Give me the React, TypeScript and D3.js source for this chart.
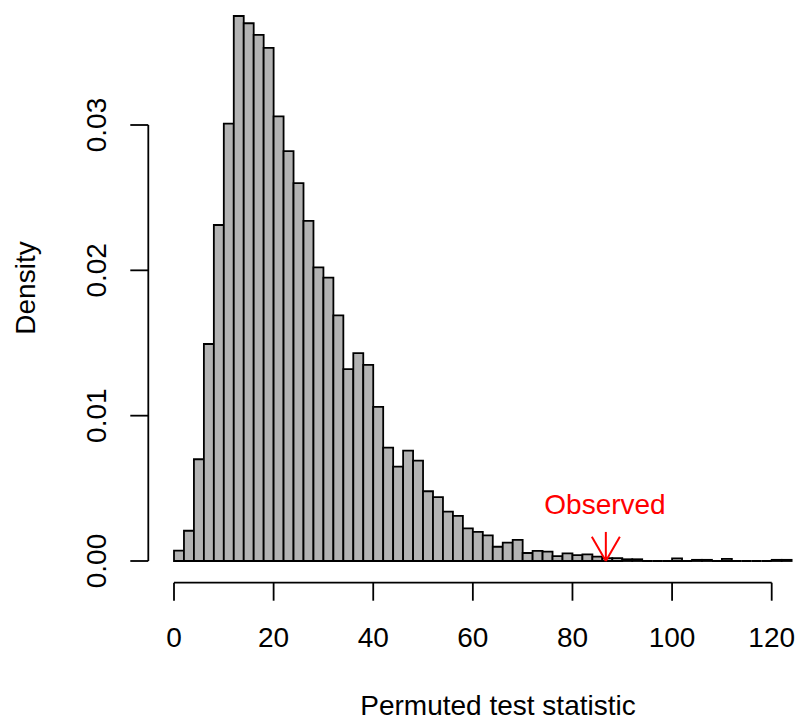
import React from "react";
import * as d3 from "d3";

// Histogram bins: width 2, starting at 0
const binStarts: number[] = Array.from({ length: 62 }, (_, i) => i * 2);
const binWidth = 2;
const densities: number[] = [
  0.00071, 0.00208, 0.0070, 0.01493, 0.02312, 0.0301, 0.0375, 0.0370, 0.0362, 0.0353,
  0.0306, 0.0282, 0.0260, 0.0234, 0.0202, 0.0195, 0.0169, 0.0132, 0.0143, 0.0135,
  0.0106, 0.0078, 0.0065, 0.0076, 0.0069, 0.0048, 0.0044, 0.0034, 0.0031, 0.00225,
  0.0020, 0.00177, 0.00098, 0.00126, 0.00145, 0.00055, 0.0007, 0.00064, 0.00034, 0.00053,
  0.0004, 0.00045, 0.0003, 0.0002, 0.0002, 0.00012, 0.00012, 0, 0, 0,
  0.00018, 0, 0.00008, 0.00008, 0, 0.00015, 0, 0, 0, 0,
  0.00008, 0.00008,
];
const xTicks: number[] = [0, 20, 40, 60, 80, 100, 120];
const yTicks: number[] = [0, 0.01, 0.02, 0.03];
const yTickLabels: string[] = ["0.00", "0.01", "0.02", "0.03"];
const observedValue = 86.7;
const observedLabel = "Observed";
const xTitle = "Permuted test statistic";
const yTitle = "Density";

export default function App() {
  const W = 799;
  const H = 723;
  const x = d3.scaleLinear().domain([0, 120]).range([174, 771.7]);
  const y = d3.scaleLinear().domain([0, 0.03]).range([561, 125]);
  const font = "'Liberation Sans', Arial, Helvetica, sans-serif";
  const fs = 28;
  const axisY = 582.7;
  const axisX = 148.3;
  const tickLen = 18;

  const arrowTop = y(0.002);
  const arrowTip = y(0);
  const ax = x(observedValue);
  const headLen = 28;
  const ang = (30 * Math.PI) / 180;

  const barPath = (s: number, d: number) => {
    const x0 = x(s);
    const x1 = x(s + binWidth);
    const y0 = y(0);
    const y1 = y(d);
    return `M${x0},${y0}L${x0},${y1}L${x1},${y1}L${x1},${y0}Z`;
  };

  return (
    <svg
      width={W}
      height={H}
      style={{ position: "absolute", left: 0, top: 0, background: "#fff" }}
      fontFamily={font}
    >
      <rect x={0} y={0} width={W} height={H} fill="#fff" />
      {/* bars */}
      <g>
        {binStarts.map((s, i) => (
          <path
            key={i}
            d={barPath(s, densities[i])}
            fill="#b3b3b3"
            stroke="#000"
            strokeWidth={1.8}
            strokeLinejoin="miter"
          />
        ))}
      </g>
      {/* x axis */}
      <g>
        <line x1={x(xTicks[0])} x2={x(xTicks[xTicks.length - 1])} y1={axisY} y2={axisY} stroke="#000" strokeWidth={1.8} />
        {xTicks.map((t) => (
          <g key={t}>
            <line x1={x(t)} x2={x(t)} y1={axisY} y2={axisY + tickLen} stroke="#000" strokeWidth={1.8} />
            <text x={x(t)} y={646.5} textAnchor="middle" fontSize={fs} fill="#000">
              {t}
            </text>
          </g>
        ))}
      </g>
      {/* y axis */}
      <g>
        <line x1={axisX} x2={axisX} y1={y(yTicks[0])} y2={y(yTicks[yTicks.length - 1])} stroke="#000" strokeWidth={1.8} />
        {yTicks.map((t, i) => (
          <g key={t}>
            <line x1={axisX - tickLen} x2={axisX} y1={y(t)} y2={y(t)} stroke="#000" strokeWidth={1.8} />
            <text
              transform={`translate(106, ${y(t)}) rotate(-90)`}
              textAnchor="middle"
              fontSize={fs}
              fill="#000"
            >
              {yTickLabels[i]}
            </text>
          </g>
        ))}
      </g>
      {/* titles */}
      <text x={498} y={715} textAnchor="middle" fontSize={fs} fill="#000">
        {xTitle}
      </text>
      <text transform={`translate(35, 288) rotate(-90)`} textAnchor="middle" fontSize={fs} fill="#000">
        {yTitle}
      </text>
      {/* observed arrow */}
      <g stroke="#ff0000" strokeWidth={2} fill="none">
        <line x1={ax} x2={ax} y1={arrowTop} y2={arrowTip} />
        <line x1={ax} y1={arrowTip} x2={ax - headLen * Math.sin(ang)} y2={arrowTip - headLen * Math.cos(ang)} />
        <line x1={ax} y1={arrowTip} x2={ax + headLen * Math.sin(ang)} y2={arrowTip - headLen * Math.cos(ang)} />
      </g>
      <text x={605} y={513.5} textAnchor="middle" fontSize={fs} fill="#ff0000">
        {observedLabel}
      </text>
    </svg>
  );
}
